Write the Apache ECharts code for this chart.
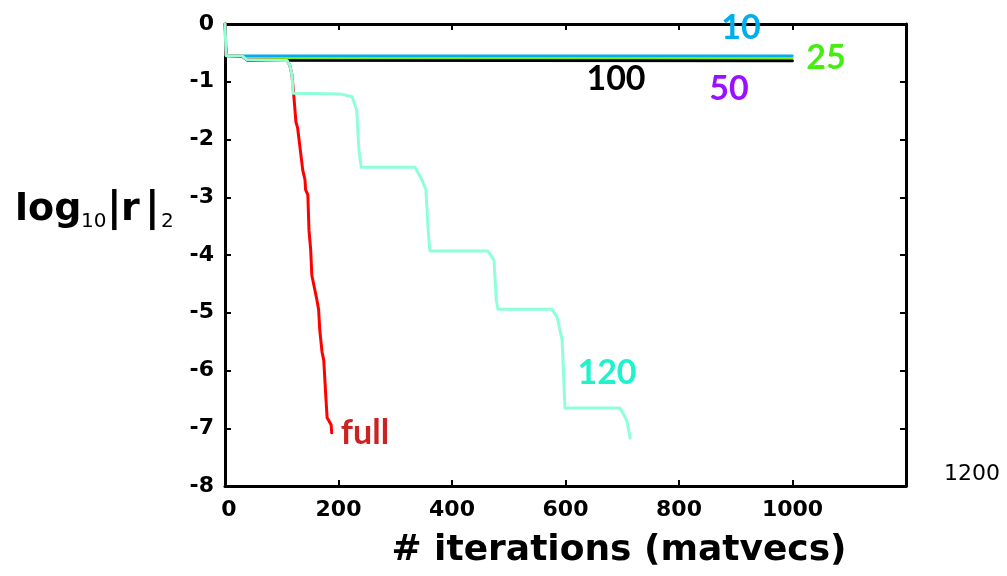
<!DOCTYPE html>
<html>
<head>
<meta charset="utf-8">
<script src="https://cdn.jsdelivr.net/npm/echarts@6/dist/echarts.min.js"></script>
<style>
html, body { margin: 0; padding: 0; background: #fff; }
#chart { width: 1007px; height: 576px; }
</style>
</head>
<body>
<div id="chart"></div>
<script>
// 残差曲线数据 (迭代次数, log10|r|2)
var iters10 = [0, 2, 30, 1000];
var res10 = [0, -0.55, -0.55, -0.55];

var iters25 = [0, 2, 30, 45, 60, 1000];
var res25 = [0, -0.55, -0.55, -0.58, -0.59, -0.59];

var iters50 = [0, 2, 30, 39, 1000];
var res50 = [0, -0.55, -0.56, -0.62, -0.63];

var iters100 = [0, 2, 30, 39, 1000];
var res100 = [0, -0.55, -0.56, -0.63, -0.64];

var iters120 = [0, 2, 30, 39, 109, 114, 118, 120, 203, 224, 232, 236, 240, 335, 347, 354, 358, 361,
    463, 474, 478, 481, 576, 585, 594, 597, 599, 696, 708, 714];
var res120 = [0, -0.55, -0.55, -0.62, -0.63, -0.71, -0.88, -1.2, -1.21, -1.26, -1.49, -2.18, -2.48, -2.48, -2.7, -2.87, -3.57, -3.93,
    -3.93, -4.09, -4.78, -4.94, -4.94, -5.07, -5.47, -6.16, -6.65, -6.65, -6.86, -7.17];

var itersFull = [0, 2, 30, 39, 109, 114, 118, 121, 125, 128, 137, 141, 142, 146, 148, 151, 153, 162,
    165, 167, 171, 174, 178, 180, 187, 188];
var resFull = [0, -0.55, -0.55, -0.62, -0.63, -0.71, -0.88, -1.21, -1.7, -1.8, -2.53, -2.7, -2.87, -2.96, -3.57, -3.91, -4.35, -4.78,
    -4.95, -5.3, -5.68, -5.82, -6.51, -6.82, -6.94, -7.08];

var xTicks = [0, 200, 400, 600, 800, 1000, 1200];
var yTicks = [0, -1, -2, -3, -4, -5, -6, -7, -8];

function pairs(xs, ys){
    var out = [];
    for (var i = 0; i < xs.length; i ++)
        out.push([xs[i], ys[i]]);
    return out;
}

function lineSeries(name, xs, ys, color, width){
    return {
        name: name,
        type: 'line',
        data: pairs(xs, ys),
        showSymbol: false,
        symbol: 'none',
        lineStyle: {color: color, width: width || 2.5, join: 'round', cap: 'round'},
        itemStyle: {color: color},
        z: 3
    };
}

var font = 'DejaVu Sans';
var tagFont = 'Lato';

function axisCommon(pos, showLabel){
    return {
        type: 'value',
        position: pos,
        axisLine: {show: true, onZero: false, lineStyle: {color: '#000', width: 3}},
        axisTick: {show: true, inside: true, length: 6, lineStyle: {color: '#000', width: 2}},
        splitLine: {show: false},
        axisLabel: {show: showLabel}
    };
}

var xBottom = axisCommon('bottom', true);
xBottom.min = xTicks[0];
xBottom.max = xTicks[xTicks.length - 1];
xBottom.interval = 200;
xBottom.axisLabel = {
    show: true, color: '#000', fontSize: 22, fontWeight: 'bold', fontFamily: font, margin: 13,
    formatter: function(v){ return v === 1200 ? '' : (v === 0 ? ' 0' : String(v)); }
};
var xTop = axisCommon('top', false);
xTop.min = xBottom.min; xTop.max = xBottom.max; xTop.interval = 200;

var yLeft = axisCommon('left', true);
yLeft.min = yTicks[yTicks.length - 1];
yLeft.max = yTicks[0];
yLeft.interval = 1;
yLeft.axisLabel = {show: true, color: '#000', fontSize: 22, fontWeight: 'bold', fontFamily: font, margin: 11};
var yRight = axisCommon('right', false);
yRight.min = yLeft.min; yRight.max = yLeft.max; yRight.interval = 1;

function tag(text, x, y, color, size, weight, family){
    return {
        type: 'text', x: x, y: y, z: 10,
        style: {
            text: text, fill: color, fontSize: size, fontWeight: weight || 'normal',
            fontFamily: family || tagFont, align: 'center', verticalAlign: 'middle'
        }
    };
}

var option = {
    animation: false,
    backgroundColor: '#fff',
    grid: {left: 225, right: 101, top: 24, bottom: 90, containLabel: false},
    xAxis: [xBottom, xTop],
    yAxis: [yLeft, yRight],
    series: [
        lineSeries('50', iters50, res50, '#9900ff'),
        lineSeries('100', iters100, res100, '#000000'),
        lineSeries('25', iters25, res25, '#8be600', 2),
        lineSeries('10', iters10, res10, '#00aeef'),
        lineSeries('full', itersFull, resFull, '#ff0000', 3),
        lineSeries('120', iters120, res120, '#8effd8', 3)
    ],
    graphic: [
        tag('10', 741, 28, '#00aeef', 34, 'bold'),
        tag('25', 826, 58, '#44ee11', 34, 'bold'),
        tag('100', 616, 79, '#000000', 34, 'bold'),
        tag('50', 729, 89, '#9911ff', 34, 'bold'),
        tag('120', 607, 373, '#22f2cc', 34, 'bold'),
        tag('full', 365, 433, '#cc2222', 34, 'bold'),
        tag('1200', 972, 474, '#000', 22, 'normal', font),
        tag('# iterations (matvecs)', 619, 551, '#000', 36, 'bold', font),
        // y 轴标题 log10|r|2 分段绘制
        {type: 'text', x: 15, y: 210, style: {text: 'log', fontSize: 38, fontWeight: 'bold', fontFamily: font, fill: '#000', align: 'left', verticalAlign: 'middle'}},
        {type: 'text', x: 81, y: 222, style: {text: '10', fontSize: 20, fontFamily: font, fill: '#000', align: 'left', verticalAlign: 'middle'}},
        {type: 'text', x: 107, y: 210, style: {text: '|', fontSize: 40, fontWeight: 'bold', fontFamily: font, fill: '#000', align: 'left', verticalAlign: 'middle'}},
        {type: 'text', x: 121, y: 210, style: {text: 'r', fontSize: 38, fontWeight: 'bold', fontFamily: font, fill: '#000', align: 'left', verticalAlign: 'middle'}},
        {type: 'text', x: 145, y: 210, style: {text: '|', fontSize: 40, fontWeight: 'bold', fontFamily: font, fill: '#000', align: 'left', verticalAlign: 'middle'}},
        {type: 'text', x: 161, y: 222, style: {text: '2', fontSize: 20, fontFamily: font, fill: '#000', align: 'left', verticalAlign: 'middle'}}
    ]
};

var chart = echarts.init(document.getElementById('chart'), null, {renderer: 'canvas'});
chart.setOption(option);
</script>
</body>
</html>
